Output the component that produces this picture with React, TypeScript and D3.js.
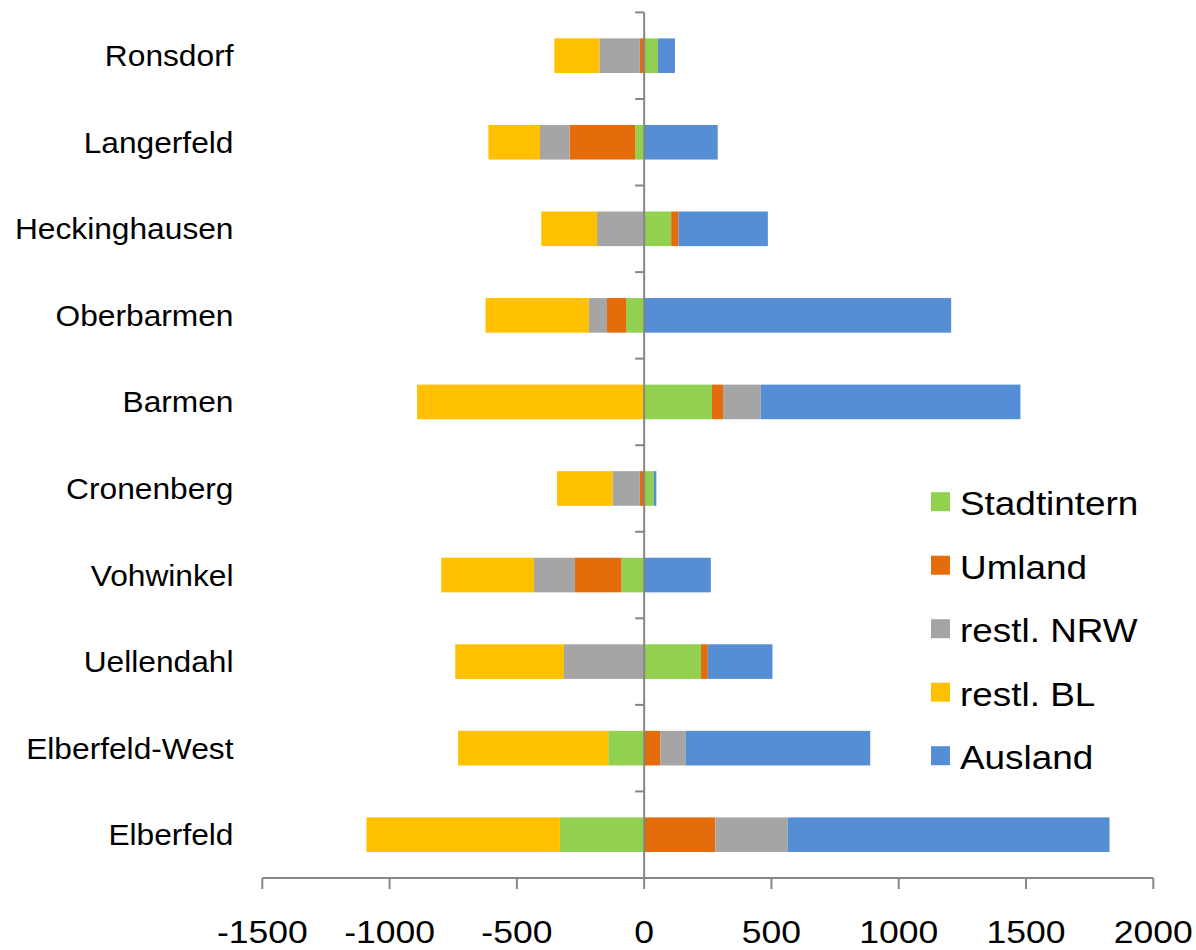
import React from "react";
import * as d3 from "d3";

// Wanderungssaldo nach Stadtbezirk und Herkunft/Ziel
const categories = [
  "Ronsdorf",
  "Langerfeld",
  "Heckinghausen",
  "Oberbarmen",
  "Barmen",
  "Cronenberg",
  "Vohwinkel",
  "Uellendahl",
  "Elberfeld-West",
  "Elberfeld",
];

const stadtintern = [54, -35, 106, -71, 266, 38, -89, 223, -141, -331];
const umland = [-17, -258, 29, -75, 44, -17, -183, 27, 63, 280];
const restlNRW = [-159, -116, -185, -71, 148, -106, -161, -315, 101, 284];
const restlBL = [-177, -203, -219, -406, -892, -219, -364, -427, -590, -760];
const ausland = [67, 289, 351, 1206, 1020, 10, 262, 254, 724, 1264];

const seriesNames = ["Stadtintern", "Umland", "restl. NRW", "restl. BL", "Ausland"];
const seriesColors = ["#92D050", "#E46C0A", "#A5A5A5", "#FFC000", "#558ED5"];
const seriesValues = [stadtintern, umland, restlNRW, restlBL, ausland];

const xTicks = [-1500, -1000, -500, 0, 500, 1000, 1500, 2000];

const WIDTH = 1196;
const HEIGHT = 950;
const FONT = "'Liberation Sans', Arial, Helvetica, sans-serif";
const AXIS = "#868686";

// Text drawn slightly widened horizontally
function WideText(props: {
  x: number;
  y: number;
  size: number;
  sx: number;
  anchor?: "start" | "middle" | "end";
  children: React.ReactNode;
}) {
  return (
    <g transform={`translate(${props.x},${props.y}) scale(${props.sx},1)`}>
      <text x={0} y={0} fontSize={props.size} textAnchor={props.anchor || "start"} fill="#000">
        {props.children}
      </text>
    </g>
  );
}

export default function App() {
  const rows = categories.map((c, i) => {
    const row: Record<string, any> = { category: c };
    seriesNames.forEach((s, k) => (row[s] = seriesValues[k][i]));
    return row;
  });

  const stacked = d3
    .stack<Record<string, any>>()
    .keys(seriesNames)
    .order(d3.stackOrderNone)
    .offset(d3.stackOffsetDiverging)(rows);

  const x = d3.scaleLinear().domain([-1500, 2000]).range([262.3, 1153.3]);
  const y = d3
    .scaleBand<string>()
    .domain(categories)
    .range([12.4, 878])
    .paddingInner(0.6)
    .paddingOuter(0.3);

  const x0 = x(0);
  const axisY = 878;
  const step = y.step();
  const catTicks = d3.range(categories.length).map((i) => 12.4 + i * step);

  const legendX = 931;
  const legendY0 = 501.7;
  const legendStep = 63.5;

  return (
    <svg
      width={WIDTH}
      height={HEIGHT}
      style={{ position: "absolute", left: 0, top: 0, background: "#fff" }}
      fontFamily={FONT}
    >
      <rect width={WIDTH} height={HEIGHT} fill="#fff" />

      {/* stacked bars */}
      {stacked.map((layer, k) => (
        <g key={layer.key} fill={seriesColors[k]}>
          {layer.map((d, i) => {
            const a = x(d[0]);
            const b = x(d[1]);
            return (
              <rect
                key={i}
                x={Math.min(a, b)}
                width={Math.abs(b - a)}
                y={y(categories[i])}
                height={y.bandwidth()}
              />
            );
          })}
        </g>
      ))}

      {/* horizontal value axis */}
      <line x1={x(-1500)} x2={x(2000)} y1={axisY} y2={axisY} stroke={AXIS} strokeWidth={2} />
      {xTicks.map((t) => (
        <g key={t}>
          <line x1={x(t)} x2={x(t)} y1={axisY} y2={axisY + 11} stroke={AXIS} strokeWidth={2} />
          <WideText x={x(t)} y={943} size={32} sx={1.11} anchor="middle">
            {t}
          </WideText>
        </g>
      ))}

      {/* vertical category axis at zero */}
      <line x1={x0} x2={x0} y1={12.4} y2={axisY} stroke={AXIS} strokeWidth={2} />
      {catTicks.map((ty, i) => (
        <line key={i} x1={x0 - 9} x2={x0} y1={ty} y2={ty} stroke={AXIS} strokeWidth={2} />
      ))}

      {/* category labels */}
      {categories.map((c) => (
        <WideText
          key={c}
          x={233.5}
          y={(y(c) as number) + y.bandwidth() / 2 + 10.5}
          size={30}
          sx={1.057}
          anchor="end"
        >
          {c}
        </WideText>
      ))}

      {/* legend */}
      {seriesNames.map((s, k) => (
        <g key={s} transform={`translate(${legendX},${legendY0 + k * legendStep})`}>
          <rect x={0} y={-9.5} width={19} height={19} fill={seriesColors[k]} />
          <WideText x={29} y={13.3} size={34} sx={1.085}>
            {s}
          </WideText>
        </g>
      ))}
    </svg>
  );
}
